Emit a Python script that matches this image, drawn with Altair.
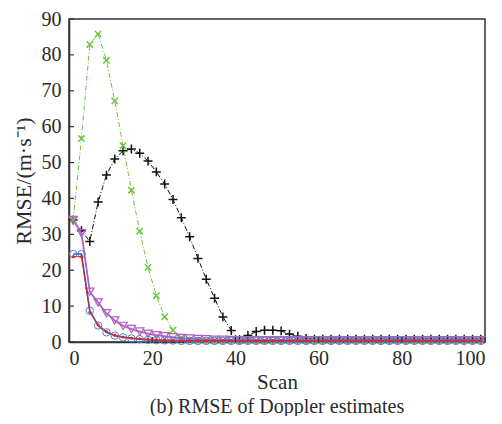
import altair as alt
import pandas as pd

scan = list(range(1, 100, 2))

black = [34, 31, 28, 39, 46.5, 51, 53.3, 53.8, 52.6, 50.4, 47.4, 44, 39.7, 34.6, 29.3, 23.3, 17.5, 12.2, 7.0, 3.2,
         0.6, 1.8, 2.9, 3.3, 3.3, 3.1, 2.2, 1.6, 1.0, 0.8] + [0.8] * 20
green = [34, 56.7, 82.9, 85.8, 78.5, 67.2, 54.7, 42.3, 30.9, 20.8, 12.9, 7.0, 3.3, 1.2, 0.6] + [0.4] * 35
purple = [34, 30.3, 14, 11, 8, 6, 4.5, 3.6, 2.9, 2.3, 1.9, 1.6, 1.3, 1.1, 0.95, 0.85, 0.75, 0.65, 0.6, 0.55] + [0.5] * 30
blue = [24.5, 24.5, 8.7, 4.6, 2.7, 1.8, 1.3, 1.0, 0.8, 0.6, 0.5, 0.45, 0.4] + [0.3] * 37
red = [23.8, 23.8, 8.3, 4.8, 2.9, 1.9, 1.4, 1.1, 0.9, 0.75, 0.6, 0.5, 0.45] + [0.4] * 37

y_ticks = [0, 10, 20, 30, 40, 50, 60, 70, 80, 90]
x_ticks = [0, 20, 40, 60, 80, 100]

FONT = "Liberation Serif"
TXT = "#2a2a2a"

def frame(vals):
    return pd.DataFrame({"scan": scan, "v": vals})

XSC = alt.Scale(domain=[0, 100], nice=False)
YSC = alt.Scale(domain=[0, 90], nice=False)

xs = alt.X("scan:Q", scale=XSC,
           axis=alt.Axis(values=x_ticks, title="Scan", titlePadding=3, labelPadding=6, titleFontSize=21))
ys = alt.Y("v:Q", scale=YSC,
           axis=alt.Axis(values=y_ticks, title="RMSE/(m·s⁻¹)", labelPadding=8, titlePadding=6, titleFontSize=22,
                         labelFlush=False))

PLUS = "M-1,0L1,0M0,-1L0,1"
XMARK = "M-1,-1L1,1M-1,1L1,-1"

def series(vals, color, dash, width, shape, size, mcolor=None, filled=False, mwidth=1.2):
    base = alt.Chart(frame(vals))
    line = base.mark_line(color=color, strokeWidth=width, strokeDash=dash).encode(x=xs, y=ys)
    pts = base.mark_point(shape=shape, size=size, filled=filled, color=mcolor or color,
                          strokeWidth=mwidth, opacity=1).encode(x=xs, y=ys)
    return [line, pts]

layers = []
layers += series(black, "#111", [5, 2, 1, 2], 1, PLUS, 80, mwidth=1.5)
layers += series(green, "#6cc43c", [5, 2, 1, 2], 1, XMARK, 40, mwidth=1.5)
layers += series(purple, "#b060c4", [1, 0], 1.8, "triangle-down", 70, mwidth=1.2)
layers += series(blue, "#2a58a8", [1, 0], 1.6, "circle", 55, mcolor="#4a80d0", mwidth=1)
layers += series(red, "#ee2222", [1, 0], 1, "circle", 10, filled=True)

yt = alt.Chart(pd.DataFrame({"v": y_ticks})).mark_rule(color="#333", strokeWidth=1.2).encode(
    y=ys, x=alt.value(0), x2=alt.value(5))
xt = alt.Chart(pd.DataFrame({"scan": x_ticks})).mark_rule(color="#333", strokeWidth=1.2).encode(
    x=xs, y=alt.value(323), y2=alt.value(318))

chart = alt.layer(*layers, yt, xt).properties(
    width=416, height=323,
    padding={"left": 61, "top": 11, "right": 9, "bottom": 74},
    autosize=alt.AutoSizeParams(type="none"),
    title=alt.TitleParams("(b) RMSE of Doppler estimates", orient="bottom", fontSize=20, font=FONT,
                          fontWeight="normal", color=TXT, offset=5, anchor="middle"),
).configure_view(stroke="#333", strokeWidth=1.5).configure_axis(
    ticks=False, grid=False, labelOverlap=False, labelFontSize=20, labelFont=FONT, titleFont=FONT,
    titleFontWeight="normal", domainColor="#333", domainWidth=1.5, labelColor=TXT, titleColor=TXT,
)

chart.save("out.html", embed_options={"renderer": "svg", "actions": False})
